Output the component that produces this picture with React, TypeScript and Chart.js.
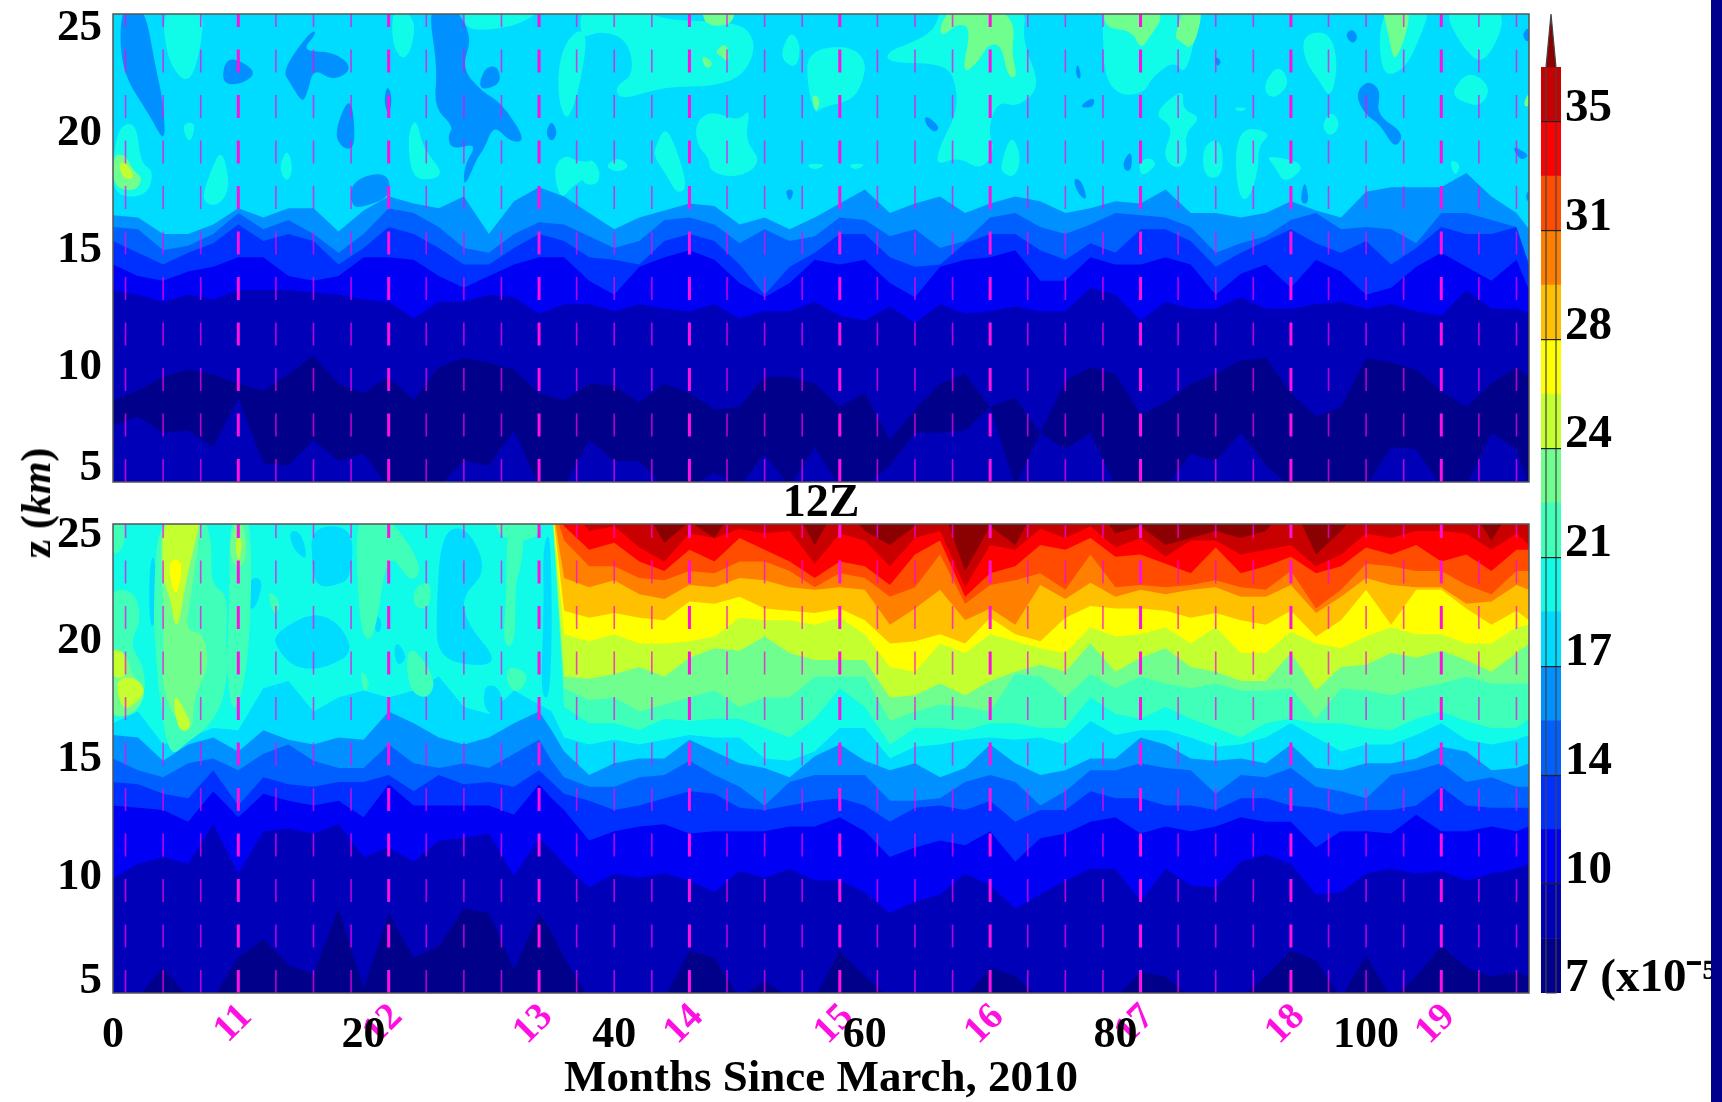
import React, { useEffect, useRef } from "react";
import { Chart, registerables } from "chart.js";

Chart.register(...registerables);

// ---------- shared axes ----------
const zRange = [5, 25];
const monthRange = [0, 113];
const monthTicks = [0, 20, 40, 60, 80, 100];
const yearTicks = [10, 22, 34, 46, 58, 70, 82, 94, 106];
const yearLabels = ["11", "12", "13", "14", "15", "16", "17", "18", "19"];
const thinGuides = [1, 4, 7, 13, 16, 19, 25, 28, 31, 37, 40, 43, 49, 52, 55, 61, 64, 67, 73, 76, 79, 85, 88, 91, 97, 100, 103, 109, 112];
const topZTicks = [5.58, 9.91, 14.91, 19.91, 24.38];
const bottomZTicks = [5.5, 9.95, 14.97, 20, 24.53];

// ---------- colour bar ----------
const bandEdges = [7, 8.75, 10.5, 12.25, 14, 15.75, 17.5, 19.25, 21, 22.75, 24.5, 26.25, 28, 29.75, 31.5, 33.25, 35, 36.75];
const bandColors = ["#00008a", "#0000b8", "#0000f4", "#0030ff", "#0060ff", "#0090ff", "#00dcff", "#10fbe8", "#40ffb8", "#70ff8f", "#c4ff30", "#ffff00", "#ffc000", "#ff8000", "#ff4c00", "#ff0000", "#c80000", "#8b0000"];
const barTicks = [10.5, 14, 17.5, 21, 24.5, 28, 31.5, 35];
const barLabelValues = [7.47, 10.92, 14.42, 17.92, 21.42, 24.92, 28.42, 31.92, 35.42];
const barLabels = ["7 (x10⁻⁵)", "10", "14", "17", "21", "24", "28", "31", "35"];
const barOutlineX = [-1, -1, 0, 1, 1, -1];
const barOutlineY = [7, 36.75, 38.46, 36.75, 7, 7];
const arrowX = [-1, 0, 1];
const arrowY = [36.75, 38.46, 36.75];

// ---------- top panel (00Z): height in km of each contour ----------
const topMonths = [0, 2, 4, 6, 8, 10, 12, 14, 16, 18, 20, 22, 24, 26, 28, 30, 32, 34, 36, 38, 40, 42, 44, 46, 48, 50, 52, 54, 56, 58, 60, 62, 64, 66, 68, 70, 72, 74, 76, 78, 80, 82, 84, 86, 88, 90, 92, 94, 96, 98, 100, 102, 104, 106, 108, 110, 112, 113];
const topNavyTop = [8.5, 8.9, 9.5, 9.8, 9.6, 9.2, 8.9, 9.6, 10.4, 9.2, 8.8, 9.5, 8.5, 9.9, 10.3, 10.1, 9.8, 8.8, 8.5, 9.2, 9.1, 8.4, 9.2, 8.8, 8.1, 8.2, 9.5, 9.5, 9.2, 8.2, 8.8, 6.8, 8.1, 9.2, 9.6, 8.2, 8.6, 7.1, 9.3, 9.9, 9.6, 7.9, 8.4, 9.2, 9.6, 10.2, 10.3, 8.8, 7.8, 8.2, 10.3, 10.1, 9.8, 8.9, 8.2, 9.2, 9.9, 9.5];
const topFloor = [7.4, 7.8, 7.1, 7.2, 6.5, 8.6, 5.8, 5.7, 6.8, 5.9, 6.2, 4.8, 4.8, 4.8, 5.9, 5.7, 7.2, 4.8, 4.8, 6.8, 5.9, 5.9, 4.8, 4.8, 5.4, 4.8, 6.2, 4.8, 6.5, 4.8, 4.8, 5.7, 7.1, 7.1, 7.2, 8.2, 4.8, 7.1, 6.4, 7.1, 4.8, 4.8, 4.8, 6.2, 5.9, 7.1, 5.7, 4.8, 4.8, 4.8, 4.8, 6.5, 6.4, 4.8, 4.8, 7.1, 6.4, 4.8];
const topLevel2 = [13.2, 13.0, 12.7, 13.0, 12.8, 13.2, 13.2, 13.2, 13.1, 13.0, 12.8, 12.7, 12.0, 12.7, 12.7, 13.0, 12.9, 12.2, 12.6, 12.6, 12.3, 12.6, 12.4, 12.3, 12.6, 12.0, 12.3, 12.3, 12.7, 12.1, 11.9, 12.5, 11.8, 12.6, 12.2, 12.3, 12.5, 12.3, 12.3, 13.3, 13.0, 11.9, 12.7, 12.4, 12.4, 12.9, 12.4, 12.4, 12.6, 12.7, 12.4, 12.6, 12.3, 12.1, 13.2, 12.4, 12.4, 12.2];
const topLevel3 = [14.3, 13.8, 13.6, 14.0, 14.2, 14.6, 14.6, 13.8, 13.6, 13.8, 14.6, 14.6, 14.5, 13.8, 13.3, 13.8, 14.3, 14.6, 14.6, 13.6, 13.0, 14.2, 14.6, 14.9, 14.5, 13.5, 12.9, 13.5, 14.5, 14.3, 14.5, 13.5, 12.9, 14.2, 14.5, 14.6, 14.9, 13.6, 13.6, 14.6, 14.3, 14.3, 14.6, 14.3, 13.0, 13.9, 14.3, 13.3, 14.5, 14.0, 13.0, 13.3, 14.2, 14.8, 14.2, 13.6, 14.5, 13.2];
const topLevel4 = [15.3, 14.8, 14.3, 14.8, 15.2, 16.0, 15.3, 15.6, 15.3, 14.3, 15.0, 15.9, 15.6, 15.0, 14.3, 14.3, 15.0, 15.6, 15.3, 14.6, 14.5, 14.3, 15.3, 15.6, 15.3, 14.3, 13.0, 14.2, 14.8, 15.6, 15.6, 14.6, 14.2, 14.3, 15.2, 15.6, 15.6, 14.9, 14.5, 15.2, 14.8, 15.8, 15.8, 15.3, 14.2, 14.8, 15.3, 15.8, 15.2, 14.8, 15.3, 14.3, 15.0, 15.9, 15.6, 15.6, 15.9, 14.5];
const topLevel5 = [15.9, 15.8, 14.9, 15.1, 15.6, 16.5, 15.8, 16.2, 15.6, 14.8, 15.6, 16.7, 16.5, 15.9, 15.0, 14.8, 15.6, 16.1, 16.0, 15.5, 15.0, 15.3, 16.2, 16.3, 16.0, 15.2, 15.8, 15.3, 15.5, 16.3, 16.2, 15.5, 15.8, 15.0, 15.3, 16.3, 16.5, 15.9, 15.6, 16.0, 16.5, 16.4, 16.3, 15.9, 14.8, 15.2, 15.5, 16.2, 16.5, 15.8, 15.9, 15.8, 15.2, 16.5, 16.5, 16.2, 15.9, 14.3];
const topLevel6 = [16.4, 16.3, 15.6, 15.6, 16.0, 16.7, 16.3, 16.7, 16.7, 15.7, 16.6, 17.2, 16.9, 16.7, 17.2, 15.6, 17.0, 17.6, 17.2, 16.5, 15.8, 16.3, 16.6, 16.9, 16.8, 16.0, 16.3, 15.8, 16.3, 16.9, 17.5, 16.5, 16.9, 17.2, 16.5, 16.9, 17.2, 17.0, 16.5, 16.7, 17.0, 16.9, 17.5, 16.5, 16.5, 16.3, 16.5, 17.0, 16.6, 16.3, 17.4, 17.6, 17.6, 17.6, 18.2, 17.2, 16.5, 15.8];

// closed islands [month, km] in the top panel
const topBlueIslands = [
  [[0.6, 25.4], [2.5, 25.4], [3.4, 22.7], [4, 21.3], [4.2, 19.4], [3, 20.6], [0.6, 22.6]],
  [[8.9, 23], [9.9, 23.1], [11.5, 22.5], [10.3, 22], [8.7, 22]],
  [[13.5, 22.6], [15.8, 24.3], [16.3, 24.2], [15, 23.4], [17.6, 23.4], [19.2, 22.7], [17.6, 22.1], [16, 22.7], [15.5, 21.6], [15.1, 21.2], [14.2, 22]],
  [[17.6, 19.9], [19, 21.7], [19.4, 19.3], [18.4, 19.2]],
  [[25.1, 25.4], [27.2, 25.4], [28.7, 24], [27.8, 22.7], [29.4, 21.7], [31, 21.2], [33, 19.6], [31.7, 19.5], [30.4, 20.3], [29.6, 19.2], [29.1, 18.9], [28, 17.5], [28, 18.5], [29.1, 19.5], [27, 19.2], [26.7, 19.8], [27.2, 20.2], [25.6, 21], [25.9, 22.7]],
  [[29.6, 22.7], [30.7, 22.8], [31, 22], [29.1, 21.7]],
  [[35, 20.5], [35.5, 19.9], [35, 19.5], [34.5, 19.9]],
  [[21.9, 22], [22.3, 21.4], [22, 20.6], [21.6, 21.3]],
  [[19, 17.9], [21.9, 18.3], [22.2, 17.2], [20, 16.75], [19, 16.75]],
  [[64.8, 20.7], [66, 20.2], [65.6, 19.9], [64.8, 20.3]],
  [[53.6, 17.5], [54.4, 17.5], [54, 16.9]],
  [[77, 22.9], [77.3, 22.3], [77, 22.2], [76.8, 22.6]],
  [[77, 21], [78.3, 21.5], [78.3, 21]],
  [[80.6, 18.7], [81.3, 19.2], [81.3, 18.3], [80.7, 18.3]],
  [[98.3, 24.1], [98.9, 24.4], [99.4, 24], [98.9, 23.7]],
  [[87.9, 23.2], [88.5, 23], [88.1, 22.7]],
  [[99.1, 21.6], [100.2, 22.2], [101.2, 21.7], [100.8, 20.7], [103.1, 19.9], [102.3, 19.2], [101.1, 20.3], [99.9, 20.7]],
  [[76.6, 18], [77.3, 17.9], [77.8, 17], [77, 17.3]],
  [[111.6, 19.4], [113, 19], [112.7, 18.8], [112.2, 18.8]],
  [[112.4, 24.1], [113, 24.5], [113, 23.7]],
  [[112.7, 17.2], [113, 17.5], [113, 16.9]],
  [[94.7, 16.9], [95.1, 18], [95.5, 16.9]],
];
const topTurquoiseIslands = [
  [[3.9, 25.4], [7.3, 25.4], [7, 23.4], [6, 21.9], [4.3, 23]],
  [[0, 19], [0.6, 20.3], [1.9, 20.3], [2.2, 18.6], [3.3, 18.3], [2.7, 17.2], [0, 17.2]],
  [[7, 17], [7.8, 18.3], [8.7, 19.3], [9.4, 17.6], [8.4, 16.75]],
  [[5.5, 20.3], [6.6, 20.4], [6.3, 19.6], [5.9, 19.6]],
  [[13.9, 19.3], [14.4, 18.4], [13.9, 17.75], [13.2, 18.4]],
  [[35.1, 18.4], [36, 19], [37.1, 18.7], [38.1, 18.7], [39, 18.3], [36.8, 17.75], [35.7, 17]],
  [[35.6, 23.2], [36.8, 24.3], [37.9, 24.2], [37.3, 22], [36.3, 20.3], [35.5, 21.3]],
  [[23.5, 19.9], [24.2, 20.6], [24.7, 19.3], [26.4, 18.2], [25.4, 17.9], [23.8, 18]],
  [[22.4, 25.4], [24.2, 24.8], [23.8, 23.4], [23, 23], [22.2, 23.9]],
  [[28, 25.4], [34.9, 25.4], [32.3, 24.5], [29.6, 24.3], [28, 24.4]],
  [[37.3, 25.4], [41.6, 25.4], [44, 24.7], [50.1, 24.7], [51.4, 23.7], [50.4, 22.4], [48, 21.9], [44, 21.9], [40.5, 21.3], [40, 21.9], [41.6, 22.4], [41.1, 23.9], [38.9, 24.3], [37.3, 23.9]],
  [[46.4, 20.3], [47.7, 20.9], [49.9, 20.4], [50.9, 21], [50.4, 19.6], [51.8, 18.7], [50.1, 18], [47.7, 18.2], [47.5, 18.9], [46.7, 19.3]],
  [[43.2, 19.2], [44, 20.2], [44.8, 19.5], [45.9, 17.6], [45, 17.3], [44.3, 18], [43.2, 18.9]],
  [[37.3, 18.2], [38.1, 18.9], [38.9, 18.3], [38.7, 17.7], [37.6, 17.7]],
  [[39.2, 18.5], [40.3, 18.9], [41.3, 18.5], [40.3, 18.2]],
  [[53.3, 23.4], [54.1, 24.3], [54.9, 23.7], [54.6, 22.7], [53.6, 22.9]],
  [[55.4, 23.4], [58.6, 23.7], [60.2, 23], [59.7, 21.9], [58.9, 21.3], [56.5, 21], [56, 20.7], [55.4, 22]],
  [[61.8, 23.4], [63.4, 23.7], [65.6, 24.3], [66.1, 25.4], [73, 25.4], [72.5, 23.9], [74.1, 21.9], [72.2, 21], [70.6, 21.3], [69.8, 20], [70.4, 19.2], [69.3, 18.3], [67.4, 18.9], [65.6, 18.5], [66.1, 19.5], [67.2, 20.6], [67.4, 21.7], [66.6, 22.9], [61.8, 22.9]],
  [[70.9, 18.7], [71.7, 19.9], [72.5, 18.9], [72, 18], [70.9, 18.2]],
  [[58.6, 18.6], [60.2, 18.6], [59.2, 18.3]],
  [[55.2, 18.6], [57, 18.6], [56, 18.3]],
  [[78.9, 25.4], [86.6, 25.4], [86.3, 23.7], [85.5, 22.4], [84.7, 23], [82.9, 22.3], [82.3, 21.6], [80.2, 21.5], [79.1, 22.4], [79, 24.1]],
  [[82.9, 20.7], [85.5, 21.9], [85.3, 20.9], [86.9, 20.6], [85.5, 19.9], [85.8, 18.9], [85, 18.3], [83.7, 18.9], [84.7, 20.2]],
  [[82.6, 18.9], [83.4, 18.6], [82.1, 18], [81.8, 18.6]],
  [[86.9, 19.2], [87.9, 19.7], [88.6, 19.3], [88.5, 18], [87.1, 18]],
  [[89.5, 19.2], [90.3, 20.2], [92.5, 19.9], [91.4, 19.4], [91.4, 18.3], [90.6, 17], [89.8, 17.2]],
  [[91.9, 19], [95.4, 18.6], [93.5, 17.7], [92.7, 18.5]],
  [[91.7, 21.9], [93, 22.9], [94, 22], [92.5, 21.3]],
  [[89.3, 21], [90.6, 21], [90, 20.8]],
  [[94.9, 24.1], [97, 24.3], [97.8, 23], [97.2, 21.3], [96.2, 22.2], [95.1, 23]],
  [[96.4, 20.2], [97.2, 20.9], [98, 20.3], [97.2, 19.7]],
  [[101.1, 25.4], [105.2, 25.4], [104.4, 24.1], [103.1, 22.6], [101.1, 22.3]],
  [[106.8, 21.7], [108.2, 22.6], [110, 21.9], [109.2, 21], [107.4, 21.3]],
  [[106.6, 18.8], [107.6, 18.6], [107.1, 18]],
  [[106, 25.4], [111.6, 25.4], [109.5, 22.7], [107.6, 23.6]],
];
const topGreenIslands = [
  [[0, 19], [1, 19], [1.6, 18.3], [2.4, 18], [1.8, 17.4], [0, 17.6]],
  [[47, 25.4], [49.7, 25.4], [49.4, 24.5], [47.2, 24.5]],
  [[46.9, 23.3], [48, 22.9], [47.3, 22.6]],
  [[48, 23.4], [49, 23.8], [49.2, 22.9], [48.5, 23.2]],
  [[55.7, 21.6], [56.5, 21.4], [56.1, 20.7]],
  [[66, 24.6], [67.2, 25.4], [70.1, 25.4], [72, 24.7], [71.7, 23.3], [72.2, 22.3], [71.4, 22.3], [70.9, 23.7], [69.8, 23.7], [69, 22.9], [67.7, 22.4], [68.5, 24.4], [67.4, 24.6], [66.1, 24]],
  [[79.1, 25.4], [84.2, 25.2], [82.6, 23.9], [82, 23.5], [81.3, 24.3], [79.1, 24.4]],
  [[84.7, 24], [85.5, 25.4], [87.1, 25.4], [86.2, 23.4], [85, 23.9]],
  [[101.2, 25.4], [103.9, 25.4], [102.3, 22.7], [101.8, 24.1]],
  [[112.5, 21.1], [113, 21.7], [113, 21]],
];
const topLimeIslands = [
  [[0.4, 18.6], [1, 18.7], [1.8, 18], [0.9, 17.9]],
];

// ---------- bottom panel (12Z) ----------
const bottomMonths = [0, 2, 4, 6, 8, 10, 12, 14, 16, 18, 20, 22, 24, 26, 28, 30, 32, 34, 35, 36, 38, 40, 42, 44, 46, 48, 50, 52, 54, 56, 58, 60, 62, 64, 66, 68, 70, 72, 74, 76, 78, 80, 82, 84, 86, 88, 90, 92, 94, 96, 98, 100, 102, 104, 106, 108, 110, 112, 113];
const aboveTop = [26, 26, 26, 26, 26, 26, 26, 26, 26, 26, 26, 26, 26, 26, 26, 26, 26, 26, 26];
const bottomNavyTop = [4.8, 4.8, 6.1, 4.8, 4.8, 6.5, 7.3, 6.2, 5.8, 8.6, 5.2, 8.4, 6.5, 7.0, 8.6, 8.4, 6.0, 8.4, 7.6, 6.5, 4.8, 4.8, 4.8, 4.8, 6.8, 6.5, 4.8, 5.5, 4.8, 4.8, 6.8, 5.7, 4.8, 4.8, 4.8, 4.8, 6.1, 5.7, 4.8, 4.8, 4.8, 4.8, 5.9, 5.7, 4.8, 4.8, 4.8, 5.7, 6.8, 6.4, 4.8, 6.6, 4.8, 5.7, 7.0, 6.1, 5.7, 5.9, 5.7];
const bottomLevel2 = [9.9, 10.5, 10.8, 10.5, 12.2, 10.1, 11.9, 12.0, 11.8, 12.2, 10.8, 11.2, 10.6, 11.5, 11.6, 11.8, 10.0, 11.6, 11.1, 10.5, 9.5, 10.1, 9.9, 10.1, 9.8, 9.3, 10.2, 9.9, 10.3, 9.8, 9.8, 9.3, 8.4, 8.9, 9.2, 10.1, 9.6, 8.6, 9.2, 9.8, 10.3, 10.3, 8.9, 10.3, 9.6, 9.5, 10.6, 10.9, 10.5, 9.2, 9.3, 10.1, 10.3, 10.1, 10.2, 9.8, 10.1, 10.3, 10.5];
const bottomLevel3 = [13.0, 12.9, 12.8, 12.3, 13.6, 12.5, 13.5, 13.2, 13.0, 13.2, 12.5, 13.9, 13.0, 13.0, 13.0, 13.0, 12.6, 13.9, 13.3, 12.8, 11.5, 11.9, 12.1, 12.2, 11.8, 11.9, 11.9, 11.9, 12.1, 12.1, 12.5, 11.9, 10.8, 11.2, 11.5, 11.3, 11.9, 10.6, 11.6, 11.8, 12.3, 12.5, 11.8, 12.1, 11.9, 12.1, 12.5, 12.3, 12.3, 11.2, 11.9, 11.9, 11.8, 12.6, 11.9, 11.9, 12.1, 11.9, 12.1];
const bottomLevel4 = [14.0, 13.9, 13.5, 13.3, 14.5, 13.0, 14.2, 13.9, 13.8, 14.0, 14.0, 14.3, 13.6, 14.3, 13.9, 14.0, 13.8, 14.5, 14.0, 13.5, 13.2, 12.8, 13.0, 13.3, 13.6, 13.5, 12.9, 12.8, 13.0, 13.2, 13.3, 13.0, 12.3, 12.9, 13.0, 12.8, 13.2, 12.3, 12.8, 12.8, 13.6, 13.3, 13.3, 13.0, 13.0, 12.8, 13.3, 13.3, 13.0, 12.9, 12.6, 12.8, 12.8, 13.0, 13.8, 13.0, 12.9, 12.9, 12.9];
const bottomLevel5 = [15.0, 14.5, 14.2, 14.8, 15.0, 14.5, 15.2, 15.6, 14.9, 14.6, 14.6, 15.6, 14.8, 14.6, 14.8, 14.6, 15.2, 15.8, 14.9, 14.2, 13.8, 13.8, 14.2, 14.3, 14.9, 14.3, 13.8, 13.0, 14.0, 14.3, 14.3, 14.3, 13.2, 13.2, 13.3, 14.0, 14.3, 14.0, 13.0, 13.6, 14.5, 14.5, 14.8, 14.6, 14.5, 13.5, 14.3, 14.2, 14.6, 13.8, 13.6, 13.3, 14.3, 14.5, 14.8, 14.0, 14.2, 13.8, 13.8];
const bottomLevel6 = [16.0, 15.9, 14.9, 15.6, 15.9, 15.3, 16.2, 15.8, 15.6, 15.9, 15.8, 17.0, 16.5, 15.9, 15.6, 15.9, 16.5, 17.0, 16.2, 15.3, 14.3, 14.8, 15.0, 15.0, 15.8, 15.3, 14.8, 14.6, 14.2, 15.1, 15.6, 14.9, 14.5, 14.8, 14.2, 14.6, 15.6, 14.8, 14.3, 14.5, 15.0, 15.0, 15.9, 15.6, 15.0, 14.9, 15.0, 14.8, 15.6, 14.6, 14.5, 14.8, 14.8, 15.0, 15.5, 15.3, 14.5, 14.6, 14.8];
const bottomLevel7 = [16.5, 17.0, 15.6, 15.9, 16.3, 16.2, 18.0, 18.3, 17.0, 17.6, 17.9, 17.6, 17.9, 18.5, 17.2, 16.9, 17.9, 17.3, 17.0, 15.9, 15.6, 15.8, 15.6, 15.8, 16.0, 15.9, 15.9, 15.0, 14.9, 15.3, 16.3, 16.3, 15.0, 15.5, 15.6, 15.8, 15.9, 15.8, 15.9, 15.6, 16.6, 16.0, 16.2, 16.2, 15.9, 15.5, 15.6, 15.9, 16.5, 15.9, 15.3, 15.6, 15.6, 16.0, 16.5, 15.8, 15.6, 15.8, 16.0];
const bottomLevel8 = [...aboveTop, 17.2, 16.5, 16.5, 16.2, 16.7, 16.6, 16.7, 16.7, 16.3, 15.9, 16.7, 18.0, 17.2, 15.6, 16.3, 16.3, 16.2, 16.5, 16.5, 16.3, 16.3, 17.6, 16.9, 16.7, 17.2, 16.7, 16.3, 15.9, 16.5, 16.7, 16.5, 16.5, 16.3, 16.2, 16.7, 17.0, 16.6, 16.3, 16.3, 16.7];
const bottomLevel9 = [...aboveTop, 18.0, 17.5, 17.6, 17.0, 17.3, 17.6, 17.9, 17.2, 17.6, 17.6, 18.5, 18.5, 18.5, 16.6, 17.0, 17.3, 17.2, 17.0, 18.6, 18.5, 17.6, 18.6, 18.0, 18.5, 18.2, 18.0, 18.2, 17.9, 17.9, 18.0, 16.7, 18.0, 17.9, 17.7, 18.0, 18.2, 18.5, 18.2, 18.2, 18.2];
const bottomLevel10 = [...aboveTop, 18.5, 18.4, 18.6, 18.9, 18.5, 19.3, 19.7, 19.6, 20.2, 19.5, 19.2, 19.2, 19.2, 17.6, 17.7, 18.2, 17.7, 18.3, 18.7, 19.0, 18.7, 19.9, 18.7, 19.3, 19.7, 18.9, 18.7, 18.3, 18.3, 19.5, 17.9, 18.9, 19.0, 19.5, 19.3, 19.6, 19.2, 18.7, 19.5, 19.9];
const bottomLevel11 = [...aboveTop, 20.3, 20.0, 20.3, 19.9, 19.9, 20.0, 20.2, 21.0, 20.9, 20.9, 20.7, 21.0, 20.3, 18.9, 18.7, 19.9, 19.5, 20.3, 20.0, 19.7, 19.5, 20.6, 20.2, 20.3, 20.6, 19.9, 20.6, 19.5, 19.5, 20.4, 19.9, 19.7, 20.2, 20.6, 20.3, 20.3, 19.9, 19.9, 20.6, 20.7];
const bottomLevel12 = [...aboveTop, 21.3, 21.0, 21.2, 21.0, 20.9, 21.7, 21.6, 21.9, 21.4, 21.3, 21.2, 21.4, 20.9, 19.9, 20.0, 20.3, 19.9, 21.0, 20.3, 20.0, 21.0, 21.5, 21.4, 21.4, 21.3, 21.0, 21.2, 20.9, 20.7, 21.3, 20.2, 20.9, 22.2, 20.7, 22.2, 22.2, 21.4, 20.7, 21.3, 20.9];
const bottomLevel13 = [...aboveTop, 22.7, 22.3, 22.6, 22.0, 21.8, 22.4, 22.3, 22.7, 22.6, 22.3, 22.2, 22.3, 22.2, 20.7, 21.4, 22.2, 20.9, 21.4, 20.7, 22.4, 21.8, 22.5, 21.9, 22.2, 22.0, 22.2, 22.3, 21.9, 21.9, 22.4, 21.2, 21.9, 22.7, 22.4, 22.3, 22.3, 21.6, 21.7, 22.4, 22.2];
const bottomLevel14 = [...aboveTop, 24.3, 23.2, 23.2, 22.7, 22.6, 23.0, 22.9, 23.4, 23.4, 23.0, 22.3, 22.9, 22.7, 21.9, 22.3, 23.7, 21.6, 22.4, 22.6, 22.9, 22.2, 23.7, 22.3, 22.4, 22.3, 22.4, 22.6, 22.3, 22.2, 23.0, 21.4, 22.2, 23.3, 23.2, 23.0, 23.0, 22.4, 22.0, 23.0, 23.0];
const bottomLevel15 = [...aboveTop, 24.9, 23.9, 24.2, 23.4, 23.0, 23.9, 23.4, 24.4, 23.9, 23.4, 22.7, 23.4, 23.2, 22.4, 23.7, 24.3, 21.9, 22.9, 23.2, 24.1, 23.9, 24.4, 23.6, 23.7, 23.3, 22.9, 24.0, 22.9, 23.2, 23.6, 22.9, 23.2, 24.0, 23.7, 24.1, 23.4, 23.7, 23.0, 23.9, 23.9];
const bottomLevel16 = [...aboveTop, 26, 24.7, 24.9, 24.0, 23.4, 24.6, 24.4, 24.8, 24.6, 24.7, 23.3, 24.6, 24.3, 23.2, 24.4, 24.7, 22.3, 24.1, 23.9, 24.8, 24.4, 24.9, 24.0, 24.4, 23.6, 24.3, 24.3, 23.7, 23.9, 24.1, 23.2, 23.7, 24.6, 24.4, 24.7, 24.7, 24.6, 23.9, 24.6, 24.1];
const bottomLevel17 = [...aboveTop, 26, 26, 26, 26, 24.2, 25.1, 24.4, 26, 26, 26, 24.1, 26, 24.7, 24.1, 24.9, 26, 23.0, 24.9, 24.1, 26, 24.9, 26, 24.6, 24.9, 24.1, 24.4, 24.7, 24.4, 24.7, 26, 23.7, 24.7, 26, 26, 26, 24.9, 26, 24.3, 26, 26];

const bottomCyanIslands = [
  [[14, 24.7], [15, 24.7], [15.6, 23.4], [14.4, 23.9]],
  [[15.8, 24.9], [19.2, 24.9], [19, 22.7], [17.9, 22.4], [16.3, 22.3], [15.9, 23.2]],
  [[10.8, 22.7], [12, 22.7], [11.5, 21.5], [10.8, 21.3]],
  [[12.8, 20.3], [16, 21.3], [18.2, 20.7], [19.2, 19.5], [17.1, 18.9], [15.5, 18.8], [14.2, 19], [13.1, 19.7]],
  [[26.2, 24.7], [28.3, 24.9], [29.9, 23], [27.8, 21.9], [28.3, 20.7], [30.7, 19.2], [29.1, 18.9], [25.9, 19.3], [25.8, 21.3]],
  [[29.6, 18.2], [31, 18], [31, 16.8], [29.6, 17]],
  [[21.1, 21.2], [21.5, 20.7], [21.2, 20.3], [20.8, 20.6]],
  [[22.7, 20], [23.5, 19.3], [22.7, 18.9], [22.4, 19.6]],
  [[2.9, 23.4], [3.4, 23.7], [3.4, 20.7], [2.9, 20.6]],
  [[34.3, 24.2], [35, 24.7], [35, 17.6], [34.1, 17.6], [34.4, 21.3]],
];
const bottomSeaGreenIslands = [
  [[-0.6, 22.2], [1.7, 22.2], [2.3, 20.9], [1.3, 19.9], [2.5, 18.9], [2.6, 17.6], [0.9, 17], [-0.6, 17]],
  [[-0.6, 25.5], [0.9, 25.5], [1, 23.9], [-0.6, 23.6]],
  [[3.6, 25.5], [7.2, 25.5], [7.9, 24.2], [7.8, 22.4], [9.2, 22], [9, 19.9], [9.2, 18.9], [8.7, 17.2], [7.3, 16.2], [5.9, 15.7], [4.5, 15], [3.7, 17.6], [3.4, 19.6], [3.2, 21.3]],
  [[9.3, 25.5], [10.8, 25.5], [11.1, 23.4], [10.8, 18.9], [9.6, 16.6], [9, 18.9], [9.3, 21.3]],
  [[12.3, 22.3], [13.5, 21.6], [12.8, 21]],
  [[19.4, 25.5], [21.8, 25.5], [24.8, 23.2], [23.8, 22.4], [21.9, 24], [20.9, 20.1], [19.9, 20.1], [19.5, 22.3]],
  [[23.4, 19.6], [24.3, 19.6], [25.8, 18.3], [25.1, 17.5], [23.6, 17.9]],
  [[24, 22.3], [25.4, 22.6], [25.3, 21.4], [24, 21.4]],
  [[19.7, 18.9], [20.6, 18.2], [20, 17.7]],
  [[31.4, 24.9], [32.9, 25.5], [32.6, 23.2], [32.1, 22.5], [32.1, 19.8], [31.1, 19.8], [31.4, 21.9]],
  [[31.6, 19], [33.3, 18.6], [32.3, 17.7], [31.3, 18.3]],
  [[30.2, 25.5], [34.3, 25.5], [34, 24.3], [30.9, 24.3]],
];
const bottomGreenIslands = [
  [[3.8, 25.5], [7.1, 25.5], [6.8, 23.9], [6, 21.3], [5.9, 20.4], [7.2, 20.4], [7.7, 18.9], [6.4, 17.6], [6.4, 16.1], [5, 16.6], [3.9, 18], [4.1, 19.9], [3.9, 22.7]],
  [[-0.5, 19.7], [1.1, 19.6], [1.4, 18.6], [2.7, 18], [2, 17], [0.3, 16.7], [-0.5, 17.2]],
  [[9.4, 24.6], [10.2, 25.5], [10.8, 23.7], [10, 23], [9.3, 23.7]],
];
const bottomLimeIslands = [
  [[4, 25.5], [7.1, 25.5], [6.4, 23.9], [5.8, 22.5], [5.1, 20.2], [4.5, 22], [3.9, 22.7]],
  [[4.9, 17.8], [5.8, 17], [6.3, 16.3], [5.4, 16.1], [4.9, 16.9]],
  [[0.3, 18.4], [1.7, 18.5], [2.7, 17.9], [1.7, 17.3], [0.9, 17.1], [0.4, 17.6]],
  [[-0.3, 19.7], [1.1, 19.5], [1.1, 18.4], [-0.3, 18.5]],
  [[9.7, 24.4], [10.4, 24.4], [10, 23.2]],
];
const bottomYellowIslands = [
  [[4.4, 23.2], [5, 23.6], [5.6, 23.2], [5, 21.7]],
];

// ---------- helpers ----------
const SERIF = "'Liberation Serif', serif";
const GUIDE_THIN = "rgba(255,0,230,0.72)";
const GUIDE_THICK = "#ff10e0";
const GUIDE_DASH = [23, 22.5];

const pair = (xs: number[], ys: number[]) => xs.map((x, i) => ({ x, y: ys[i] }));

const noEdgePadding = (s: any) => {
  s.paddingTop = 0;
  s.paddingBottom = 0;
  s.paddingLeft = 0;
  s.paddingRight = 0;
};

const islandFill = {
  id: "islandFill",
  afterDatasetDraw(chart: any, args: any) {
    const ds = chart.data.datasets[args.index];
    if (!ds.islandColor) return;
    const { ctx, chartArea: a } = chart;
    const pts = args.meta.data;
    ctx.save();
    ctx.beginPath();
    ctx.rect(a.left, a.top, a.right - a.left, a.bottom - a.top);
    ctx.clip();
    ctx.beginPath();
    if (ds.sharp) {
      pts.forEach((p: any, i: number) => (i ? ctx.lineTo(p.x, p.y) : ctx.moveTo(p.x, p.y)));
      ctx.closePath();
    } else {
      // soften the outline: contour blobs have no hard corners
      const n = pts.length;
      const mid = (p: any, q: any) => ({ x: (p.x + q.x) / 2, y: (p.y + q.y) / 2 });
      const start = mid(pts[n - 1], pts[0]);
      ctx.moveTo(start.x, start.y);
      pts.forEach((p: any, i: number) => {
        const m = mid(p, pts[(i + 1) % n]);
        ctx.quadraticCurveTo(p.x, p.y, m.x, m.y);
      });
      ctx.closePath();
    }
    ctx.fillStyle = ds.islandColor;
    ctx.fill();
    ctx.restore();
  },
};

const plotFrame = {
  id: "plotFrame",
  afterDatasetsDraw(chart: any) {
    const { ctx, chartArea: a } = chart;
    ctx.save();
    ctx.strokeStyle = "#555";
    ctx.lineWidth = 1.5;
    ctx.strokeRect(a.left, a.top, a.right - a.left, a.bottom - a.top);
    ctx.restore();
  },
};

// lets the rotated year labels share the strip below the plot with the month labels
const yearStrip = {
  id: "yearStrip",
  afterLayout(chart: any) {
    const s = chart.scales.years;
    s.bottom = s.top + 75;
    s.height = 75;
  },
};

function panelDatasets(
  months: number[],
  layers: { values: number[]; color: number; fill: string }[],
  islands: { shapes: number[][][]; color: number }[]
) {
  const seq: any[] = [];
  seq.push({
    data: [{ x: monthRange[0], y: zRange[0] }, { x: monthRange[1], y: zRange[0] }],
    showLine: true, fill: "end", backgroundColor: bandColors[1], borderWidth: 0, pointRadius: 0,
  });
  layers.forEach((l) =>
    seq.push({
      data: pair(months, l.values), showLine: true, fill: l.fill,
      backgroundColor: bandColors[l.color], borderWidth: 0, pointRadius: 0,
    })
  );
  islands.forEach((g) =>
    g.shapes.forEach((s) =>
      seq.push({
        data: s.map(([x, y]) => ({ x, y })), showLine: false, pointRadius: 0, islandColor: bandColors[g.color],
      })
    )
  );
  const guide = (m: number, color: string, width: number) => ({
    data: [{ x: m, y: zRange[0] }, { x: m, y: zRange[1] }],
    showLine: true, borderColor: color, borderWidth: width, borderDash: GUIDE_DASH, pointRadius: 0, fill: false,
  });
  thinGuides.forEach((m) => seq.push(guide(m, GUIDE_THIN, 1.6)));
  yearTicks.forEach((m) => seq.push(guide(m, GUIDE_THICK, 3)));
  return seq.map((d, i) => ({ ...d, order: seq.length - i }));
}

const zAxis = (ticks: number[]) => ({
  min: zRange[0],
  max: zRange[1],
  grid: { display: false, drawTicks: false },
  border: { display: false },
  afterBuildTicks: (s: any) => { s.ticks = ticks.map((value) => ({ value })); },
  afterFit: (s: any) => { s.width = 113; noEdgePadding(s); },
  ticks: {
    autoSkip: false, padding: 11, color: "#000",
    font: { family: SERIF, weight: "bold", size: 45 },
    callback: (v: number) => String(Math.round(v / 5) * 5),
  },
});

const baseOptions = {
  responsive: false, animation: false as const, devicePixelRatio: 1, events: [] as string[],
};

export default function App() {
  const topRef = useRef<HTMLCanvasElement>(null);
  const bottomRef = useRef<HTMLCanvasElement>(null);
  const barRef = useRef<HTMLCanvasElement>(null);

  useEffect(() => {
    const top = new Chart(topRef.current!, {
      type: "scatter",
      data: {
        datasets: panelDatasets(
          topMonths,
          [
            { values: topNavyTop, color: 0, fill: "start" },
            { values: topFloor, color: 1, fill: "start" },
            { values: topLevel2, color: 2, fill: "end" },
            { values: topLevel3, color: 3, fill: "end" },
            { values: topLevel4, color: 4, fill: "end" },
            { values: topLevel5, color: 5, fill: "end" },
            { values: topLevel6, color: 6, fill: "end" },
          ],
          [
            { shapes: topTurquoiseIslands, color: 7 },
            { shapes: topGreenIslands, color: 9 },
            { shapes: topLimeIslands, color: 10 },
            { shapes: topBlueIslands, color: 5 },
          ]
        ) as any,
      },
      options: {
        ...baseOptions,
        layout: { autoPadding: false, padding: { top: 14, right: 3, bottom: 8, left: 0 } },
        plugins: { legend: { display: false }, tooltip: { enabled: false } },
        scales: {
          x: { type: "linear", min: monthRange[0], max: monthRange[1], display: false },
          y: zAxis(topZTicks) as any,
        },
      } as any,
      plugins: [islandFill, plotFrame],
    });

    const bottom = new Chart(bottomRef.current!, {
      type: "scatter",
      data: {
        datasets: panelDatasets(
          bottomMonths,
          [
            { values: bottomNavyTop, color: 0, fill: "start" },
            { values: bottomLevel2, color: 2, fill: "end" },
            { values: bottomLevel3, color: 3, fill: "end" },
            { values: bottomLevel4, color: 4, fill: "end" },
            { values: bottomLevel5, color: 5, fill: "end" },
            { values: bottomLevel6, color: 6, fill: "end" },
            { values: bottomLevel7, color: 7, fill: "end" },
            { values: bottomLevel8, color: 8, fill: "end" },
            { values: bottomLevel9, color: 9, fill: "end" },
            { values: bottomLevel10, color: 10, fill: "end" },
            { values: bottomLevel11, color: 11, fill: "end" },
            { values: bottomLevel12, color: 12, fill: "end" },
            { values: bottomLevel13, color: 13, fill: "end" },
            { values: bottomLevel14, color: 14, fill: "end" },
            { values: bottomLevel15, color: 15, fill: "end" },
            { values: bottomLevel16, color: 16, fill: "end" },
            { values: bottomLevel17, color: 17, fill: "end" },
          ],
          [
            { shapes: bottomCyanIslands, color: 6 },
            { shapes: bottomSeaGreenIslands, color: 8 },
            { shapes: bottomGreenIslands, color: 9 },
            { shapes: bottomLimeIslands, color: 10 },
            { shapes: bottomYellowIslands, color: 11 },
          ]
        ) as any,
      },
      options: {
        ...baseOptions,
        layout: { autoPadding: false, padding: { top: 0, right: 3, bottom: 0, left: 0 } },
        plugins: {
          legend: { display: false },
          tooltip: { enabled: false },
          title: {
            display: true, text: "12Z", fullSize: false, color: "#000",
            font: { family: SERIF, weight: "bold", size: 46, lineHeight: 1 },
            padding: { top: 3, bottom: -3 },
          },
        },
        scales: {
          years: {
            type: "linear", position: "bottom", weight: 0, min: monthRange[0], max: monthRange[1],
            grid: { display: false, drawTicks: false }, border: { display: false },
            afterBuildTicks: (s: any) => { s.ticks = yearTicks.map((value) => ({ value })); },
            afterFit: (s: any) => { s.height = 0; noEdgePadding(s); },
            ticks: {
              autoSkip: false, minRotation: 45, maxRotation: 45, padding: 2, labelOffset: 8, color: "#ff10e0",
              font: { family: SERIF, weight: "bold", size: 38 },
              callback: (_v: number, i: number) => yearLabels[i],
            },
          },
          x: {
            type: "linear", position: "bottom", weight: 1, min: monthRange[0], max: monthRange[1],
            grid: { display: false, drawTicks: false }, border: { display: false },
            afterBuildTicks: (s: any) => { s.ticks = monthTicks.map((value) => ({ value })); },
            afterFit: (s: any) => { s.height = 109; noEdgePadding(s); },
            ticks: {
              autoSkip: false, maxRotation: 0, padding: 16, color: "#000",
              font: { family: SERIF, weight: "bold", size: 44 },
              callback: (v: number) => String(v),
            },
            title: {
              display: true, text: "Months Since March, 2010", color: "#000",
              font: { family: SERIF, weight: "bold", size: 45, lineHeight: 1 },
              padding: { top: 0, bottom: 0 },
            },
          },
          y: zAxis(bottomZTicks) as any,
        },
      } as any,
      plugins: [islandFill, plotFrame, yearStrip],
    });

    const bar = new Chart(barRef.current!, {
      type: "bar",
      data: {
        labels: ["band"],
        datasets: [
          {
            type: "scatter", xAxisID: "xFrac", yAxisID: "y", data: pair(barOutlineX, barOutlineY),
            showLine: true, borderColor: "#444", borderWidth: 1.2, pointRadius: 0, clip: false, order: 0,
          },
          {
            type: "scatter", xAxisID: "xFrac", yAxisID: "y", data: pair(arrowX, arrowY),
            showLine: false, pointRadius: 0, islandColor: bandColors[17], sharp: true, order: 1,
          },
          ...bandEdges.slice(0, -1).map((lo, i) => ({
            label: String(lo), data: [[lo, bandEdges[i + 1]]], backgroundColor: bandColors[i],
            xAxisID: "x", yAxisID: "y", barPercentage: 1, categoryPercentage: 1, grouped: false, order: 2,
          })),
        ] as any,
      },
      options: {
        ...baseOptions,
        layout: { autoPadding: false, padding: { top: 14, right: 0, bottom: 109, left: 11 } },
        plugins: { legend: { display: false }, tooltip: { enabled: false } },
        scales: {
          x: { type: "category", display: false, offset: true },
          xFrac: { type: "linear", min: -1, max: 1, display: false },
          y: {
            type: "linear", position: "right", min: 7, max: 38.46,
            grid: { display: false, drawTicks: false }, border: { display: false },
            afterBuildTicks: (s: any) => { s.ticks = barLabelValues.map((value) => ({ value })); },
            afterFit: (s: any) => { s.width = 161; noEdgePadding(s); },
            ticks: {
              autoSkip: false, padding: 4, color: "#000",
              font: { family: SERIF, weight: "bold", size: 47 },
              callback: (_v: number, i: number) => barLabels[i],
            },
          },
          yLines: {
            type: "linear", position: "left", min: 7, max: 38.46,
            border: { display: false },
            grid: { color: "#222", lineWidth: 1.2, z: 1, drawTicks: false },
            afterBuildTicks: (s: any) => { s.ticks = barTicks.map((value) => ({ value })); },
            afterFit: (s: any) => { s.width = 0; noEdgePadding(s); },
            ticks: { display: false },
          },
        },
      } as any,
      plugins: [islandFill],
    });

    return () => {
      top.destroy();
      bottom.destroy();
      bar.destroy();
    };
  }, []);

  const abs = { position: "absolute" as const };
  return (
    <div style={{ ...abs, left: 0, top: 0, width: 1722, height: 1102, overflow: "hidden", background: "#fff" }}>
      <canvas ref={topRef} width={1532} height={490} style={{ ...abs, left: 0, top: 0 }} />
      <canvas ref={bottomRef} width={1532} height={624} style={{ ...abs, left: 0, top: 478 }} />
      <canvas ref={barRef} width={192} height={1102} style={{ ...abs, left: 1530, top: 0 }} />
      <div
        style={{
          ...abs, left: 36, top: 503, transform: "translate(-50%,-50%) rotate(-90deg)", whiteSpace: "nowrap",
          fontFamily: SERIF, fontWeight: "bold", fontSize: 42, lineHeight: 1, color: "#000",
        }}
      >
        z (<i>km</i>)
      </div>
      <div style={{ ...abs, left: 1711, top: 0, width: 11, height: 1102, background: "#00008c" }} />
    </div>
  );
}
